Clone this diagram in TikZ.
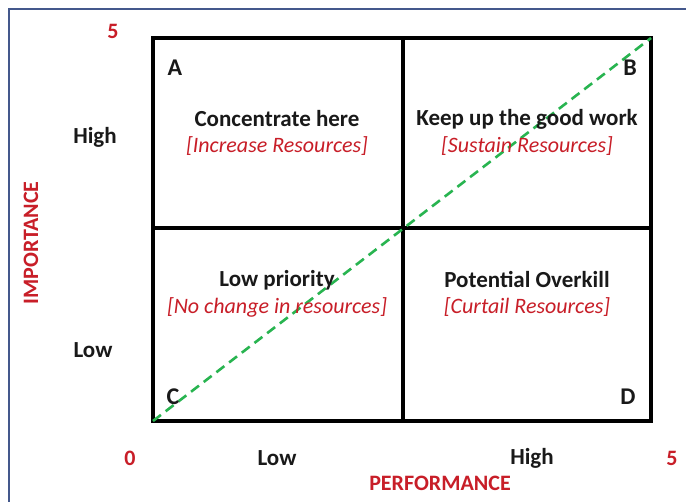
\documentclass[tikz,border=0pt]{standalone}
\usepackage{fontspec}
\setmainfont{Carlito}
\definecolor{frameblue}{RGB}{68,88,140}
\definecolor{redtxt}{RGB}{200,30,40}
\definecolor{dgreen}{RGB}{40,180,80}
\begin{document}
\begin{tikzpicture}[x=1pt,y=-1pt,
  lbl/.style={font=\fontsize{23}{26}\selectfont\bfseries, text=black!90, inner sep=0pt},
  corner/.style={font=\fontsize{24}{26}\selectfont\bfseries, text=black!90, inner sep=0pt},
  num/.style={font=\fontsize{22}{25}\selectfont\bfseries, text=redtxt, inner sep=0pt},
  sub/.style={font=\fontsize{22}{25}\selectfont\itshape, text=redtxt, inner sep=0pt},
  gridline/.style={line width=3.5pt, black},
  diag/.style={dgreen, line width=2.6pt, dash pattern=on 10pt off 6pt}]
\useasboundingbox (0,0) rectangle (686,502);
\fill[white] (0,0) rectangle (686,502);
% outer frame (cut at right and bottom)
\draw[frameblue, line width=2pt] (8.5,510) -- (8.5,9) -- (700,9);
% grid
\coordinate (bl) at (153,421);
\coordinate (tr) at (651,38);
\coordinate (ml) at (153,228);
\coordinate (mr) at (651,228);
\coordinate (mt) at (403,38);
\coordinate (mb) at (403,421);
\draw[gridline] (bl) rectangle (tr);
\draw[gridline] (ml) -- (mr);
\draw[gridline] (mt) -- (mb);
\draw[diag] (bl) -- (tr);
% corner letters
\node[corner] (A) at (175,68) {A};
\node[corner] (B) at (630,68) {B};
\node[corner] (C) at (173,397) {C};
\node[corner] (D) at (628,397) {D};
% quadrant texts
\node[lbl] (q1) at (277,119) {Concentrate here};
\node[sub] (q1s) at (277,146) {[Increase Resources]};
\node[lbl] (q2) at (527,119) {Keep up the good work};
\node[sub] (q2s) at (527,146) {[Sustain Resources]};
\node[lbl] (q3) at (277,280) {Low priority};
\node[sub] (q3s) at (277,307) {[No change in resources]};
\node[lbl] (q4) at (527,280) {Potential Overkill};
\node[sub] (q4s) at (527,307) {[Curtail Resources]};
% axes labels
\node[num] (y5) at (113,31) {5};
\node[lbl] (yh) at (95,137) {High};
\node[lbl] (yl) at (93,350) {Low};
\node[num, rotate=90] (yax) at (31,243) {IMPORTANCE};
\node[num] (x0) at (130,458) {0};
\node[lbl] (xl) at (277,458) {Low};
\node[lbl] (xh) at (532,458) {High};
\node[num] (x5) at (672,458) {5};
\node[num] (xax) at (440,483) {PERFORMANCE};
\end{tikzpicture}
\end{document}
